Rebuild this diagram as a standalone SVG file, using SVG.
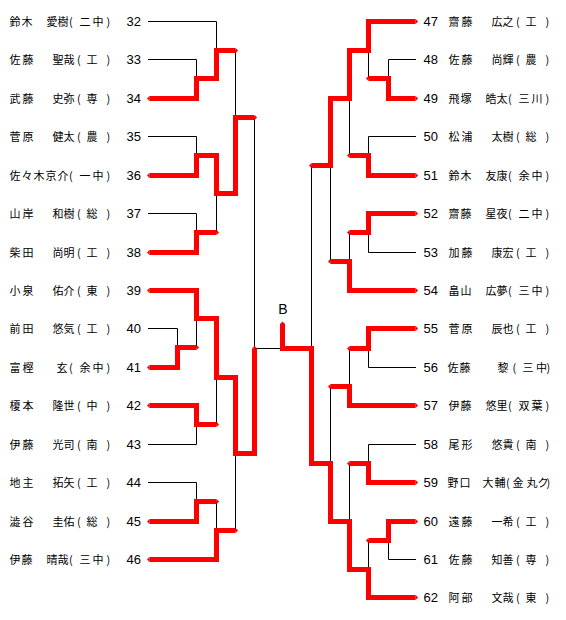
<svg xmlns="http://www.w3.org/2000/svg" width="566" height="620" viewBox="0 0 566 620">
<style>
.nm{font-family:"Noto Sans CJK JP","Noto Sans",sans-serif;font-size:11px;fill:#000}
.no{font-family:"Liberation Sans",Arial,sans-serif;font-size:13px;fill:#000}
.k{fill:none;stroke:#000;stroke-width:1}
.r{fill:none;stroke:#f00;stroke-width:5;stroke-linejoin:miter;marker-start:url(#tip);marker-end:url(#tip)}
</style>
<defs>
<marker id="tip" markerUnits="userSpaceOnUse" markerWidth="6" markerHeight="6" viewBox="-3 -3 6 6" refX="0" refY="0" orient="auto-start-reverse">
<path d="M0,-2.5 L2.6,0 L0,2.5Z" fill="#f00"/>
</marker>
</defs>
<rect width="566" height="620" fill="#fff"/>
<g id="connectors">
<g class="k">
<polyline points="148,21.5 216.5,21.5 216.5,50.5"/>
<polyline points="148,59.5 196.5,59.5 196.5,78.5"/>
<polyline points="148,136.5 196.5,136.5 196.5,155.5"/>
<polyline points="148,213.5 196.5,213.5 196.5,232.5"/>
<line x1="216.5" y1="193.5" x2="216.5" y2="232.5"/>
<line x1="235.5" y1="50.5" x2="235.5" y2="117.5"/>
<polyline points="254.5,117.5 254.5,348.5 282.5,348.5"/>
<polyline points="148,328.5 177.5,328.5 177.5,347.5"/>
<line x1="196.5" y1="318.5" x2="196.5" y2="347.5"/>
<polyline points="148,444.5 196.5,444.5 196.5,424.5"/>
<line x1="216.5" y1="377.5" x2="216.5" y2="424.5"/>
<polyline points="148,482.5 196.5,482.5 196.5,501.5"/>
<line x1="216.5" y1="501.5" x2="216.5" y2="530.5"/>
<line x1="235.5" y1="453.5" x2="235.5" y2="530.5"/>
<polyline points="416,59.5 388.5,59.5 388.5,78.5"/>
<line x1="368.5" y1="50.5" x2="368.5" y2="78.5"/>
<polyline points="416,136.5 368.5,136.5 368.5,155.5"/>
<line x1="349.5" y1="98.5" x2="349.5" y2="155.5"/>
<polyline points="416,252.5 368.5,252.5 368.5,232.5"/>
<line x1="349.5" y1="232.5" x2="349.5" y2="261.5"/>
<line x1="330.5" y1="165.5" x2="330.5" y2="261.5"/>
<line x1="311.5" y1="165.5" x2="311.5" y2="348.5"/>
<polyline points="416,367.5 368.5,367.5 368.5,348.5"/>
<line x1="349.5" y1="348.5" x2="349.5" y2="386.5"/>
<line x1="330.5" y1="386.5" x2="330.5" y2="463.5"/>
<polyline points="416,444.5 368.5,444.5 368.5,463.5"/>
<line x1="349.5" y1="463.5" x2="349.5" y2="521.5"/>
<polyline points="416,559.5 388.5,559.5 388.5,540.5"/>
<line x1="368.5" y1="540.5" x2="368.5" y2="569.5"/>
</g>
<g class="r">
<polyline points="149.5,98.5 196.5,98.5 196.5,78.5 216.5,78.5 216.5,50.5 235.5,50.5"/>
<polyline points="149.5,175.5 196.5,175.5 196.5,155.5 216.5,155.5 216.5,193.5 235.5,193.5 235.5,117.5 254.5,117.5"/>
<polyline points="149.5,252.5 196.5,252.5 196.5,232.5 216.5,232.5"/>
<polyline points="149.5,290.5 196.5,290.5 196.5,318.5 216.5,318.5 216.5,377.5 235.5,377.5 235.5,453.5 254.5,453.5 254.5,348.5"/>
<polyline points="149.5,367.5 177.5,367.5 177.5,347.5 196.5,347.5"/>
<polyline points="149.5,405.5 196.5,405.5 196.5,424.5 216.5,424.5"/>
<polyline points="149.5,521.5 196.5,521.5 196.5,501.5 216.5,501.5"/>
<polyline points="149.5,559.5 216.5,559.5 216.5,530.5 235.5,530.5"/>
<polyline points="415.5,21.5 368.5,21.5 368.5,50.5 349.5,50.5 349.5,98.5 330.5,98.5 330.5,165.5 311.5,165.5"/>
<polyline points="415.5,98.5 388.5,98.5 388.5,78.5 368.5,78.5"/>
<polyline points="415.5,175.5 368.5,175.5 368.5,155.5 349.5,155.5"/>
<polyline points="415.5,213.5 368.5,213.5 368.5,232.5 349.5,232.5"/>
<polyline points="415.5,290.5 349.5,290.5 349.5,261.5 330.5,261.5"/>
<polyline points="415.5,328.5 368.5,328.5 368.5,348.5 349.5,348.5"/>
<polyline points="415.5,405.5 349.5,405.5 349.5,386.5 330.5,386.5"/>
<polyline points="415.5,482.5 368.5,482.5 368.5,463.5 349.5,463.5"/>
<polyline points="415.5,521.5 388.5,521.5 388.5,540.5 368.5,540.5"/>
<polyline points="415.5,597.5 368.5,597.5 368.5,569.5 349.5,569.5 349.5,521.5 330.5,521.5 330.5,463.5 311.5,463.5 311.5,348.5 282.5,348.5 282.5,324"/>
</g>
</g>
<g id="final"><text class="no" x="283" y="313.5" text-anchor="middle" style="font-size:14px">B</text></g>
<g id="p32"><text class="nm" x="9.5 21.5 34 46.5 57.5 69 79.5 92.5 106.5" y="26">鈴木　愛樹(二中)</text><text class="no" x="126.5" y="26">32</text></g>
<g id="p33"><text class="nm" x="9.5 22.5 37 52.5 63.5 77 86.5 106.5" y="64">佐藤　聖哉(工)</text><text class="no" x="126.5" y="64">33</text></g>
<g id="p34"><text class="nm" x="9.5 22.5 37 52.5 63.5 77 86.5 106.5" y="103">武藤　史弥(専)</text><text class="no" x="126.5" y="103">34</text></g>
<g id="p35"><text class="nm" x="9.5 22.5 37 52.5 63.5 77 86.5 106.5" y="141">菅原　健太(農)</text><text class="no" x="126.5" y="141">35</text></g>
<g id="p36"><text class="nm" x="9.5 21.5 33.5 45.5 57.5 69 79.5 92.5 106.5" y="180">佐々木京介(一中)</text><text class="no" x="126.5" y="180">36</text></g>
<g id="p37"><text class="nm" x="9.5 22.5 37 52.5 63.5 77 86.5 106.5" y="218">山岸　和樹(総)</text><text class="no" x="126.5" y="218">37</text></g>
<g id="p38"><text class="nm" x="9.5 22.5 37 52.5 63.5 77 86.5 106.5" y="257">柴田　尚明(工)</text><text class="no" x="126.5" y="257">38</text></g>
<g id="p39"><text class="nm" x="9.5 22.5 37 52.5 63.5 77 86.5 106.5" y="295">小泉　佑介(東)</text><text class="no" x="126.5" y="295">39</text></g>
<g id="p40"><text class="nm" x="9.5 22.5 37 52.5 63.5 77 86.5 106.5" y="333">前田　悠気(工)</text><text class="no" x="126.5" y="333">40</text></g>
<g id="p41"><text class="nm" x="9.5 22.5 34 46 56.5 69 79.5 92.5 106.5" y="372">富樫　　玄(余中)</text><text class="no" x="126.5" y="372">41</text></g>
<g id="p42"><text class="nm" x="9.5 22.5 37 52.5 63.5 77 86.5 106.5" y="410">榎本　隆世(中)</text><text class="no" x="126.5" y="410">42</text></g>
<g id="p43"><text class="nm" x="9.5 22.5 37 52.5 63.5 77 86.5 106.5" y="449">伊藤　光司(南)</text><text class="no" x="126.5" y="449">43</text></g>
<g id="p44"><text class="nm" x="9.5 22.5 37 52.5 63.5 77 86.5 106.5" y="487">地主　拓矢(工)</text><text class="no" x="126.5" y="487">44</text></g>
<g id="p45"><text class="nm" x="9.5 22.5 37 52.5 63.5 77 86.5 106.5" y="526">澁谷　圭佑(総)</text><text class="no" x="126.5" y="526">45</text></g>
<g id="p46"><text class="nm" x="9.5 21.5 34 46.5 57.5 69 79.5 92.5 106.5" y="564">伊藤　晴哉(三中)</text><text class="no" x="126.5" y="564">46</text></g>
<g id="p47"><text class="no" x="423.5" y="26">47</text><text class="nm" x="448.5 461.5 476 491.5 502.5 516 525.5 545.5" y="26">齋藤　広之(工)</text></g>
<g id="p48"><text class="no" x="423.5" y="64">48</text><text class="nm" x="448.5 461.5 476 491.5 502.5 516 525.5 545.5" y="64">佐藤　尚輝(農)</text></g>
<g id="p49"><text class="no" x="423.5" y="103">49</text><text class="nm" x="448.5 460.5 473 485.5 496.5 508 518.5 531.5 545.5" y="103">飛塚　皓太(三川)</text></g>
<g id="p50"><text class="no" x="423.5" y="141">50</text><text class="nm" x="448.5 461.5 476 491.5 502.5 516 525.5 545.5" y="141">松浦　太樹(総)</text></g>
<g id="p51"><text class="no" x="423.5" y="180">51</text><text class="nm" x="448.5 460.5 473 485.5 496.5 508 518.5 531.5 545.5" y="180">鈴木　友康(余中)</text></g>
<g id="p52"><text class="no" x="423.5" y="218">52</text><text class="nm" x="448.5 460.5 473 485.5 496.5 508 518.5 531.5 545.5" y="218">齋藤　星夜(二中)</text></g>
<g id="p53"><text class="no" x="423.5" y="257">53</text><text class="nm" x="448.5 461.5 476 491.5 502.5 516 525.5 545.5" y="257">加藤　康宏(工)</text></g>
<g id="p54"><text class="no" x="423.5" y="295">54</text><text class="nm" x="448.5 460.5 473 485.5 496.5 508 518.5 531.5 545.5" y="295">畠山　広夢(三中)</text></g>
<g id="p55"><text class="no" x="423.5" y="333">55</text><text class="nm" x="448.5 461.5 476 491.5 502.5 516 525.5 545.5" y="333">菅原　辰也(工)</text></g>
<g id="p56"><text class="no" x="423.5" y="372">56</text><text class="nm" x="447.5 459.5 471 485 497.5 512.5 522.5 536 546.5" y="372">佐藤　　黎(三中)</text></g>
<g id="p57"><text class="no" x="423.5" y="410">57</text><text class="nm" x="448.5 460.5 473 485.5 496.5 508 518.5 531.5 545.5" y="410">伊藤　悠里(双葉)</text></g>
<g id="p58"><text class="no" x="423.5" y="449">58</text><text class="nm" x="448.5 461.5 476 491.5 502.5 516 525.5 545.5" y="449">尾形　悠貴(南)</text></g>
<g id="p59"><text class="no" x="423.5" y="487">59</text><text class="nm" x="447.5 459.5 471 482.5 494.5 506 512.5 526.5 537.5 546.5" y="487">野口　大輔(金丸ク)</text></g>
<g id="p60"><text class="no" x="423.5" y="526">60</text><text class="nm" x="448.5 461.5 476 491.5 502.5 516 525.5 545.5" y="526">遠藤　一希(工)</text></g>
<g id="p61"><text class="no" x="423.5" y="564">61</text><text class="nm" x="448.5 461.5 476 491.5 502.5 516 525.5 545.5" y="564">佐藤　知善(専)</text></g>
<g id="p62"><text class="no" x="423.5" y="602">62</text><text class="nm" x="448.5 461.5 476 491.5 502.5 516 525.5 545.5" y="602">阿部　文哉(東)</text></g>
</svg>
